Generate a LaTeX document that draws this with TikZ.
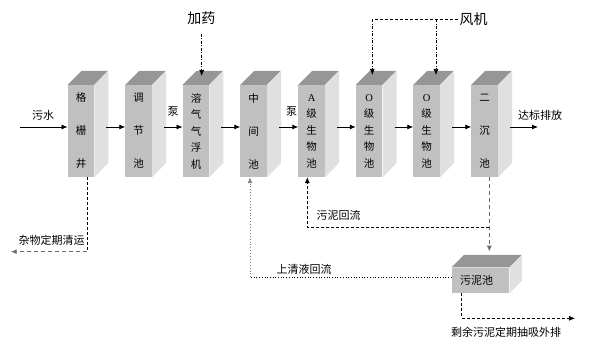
\documentclass[tikz,border=0pt]{standalone}
\usepackage{fontspec}
\newfontfamily\cjk{Noto Sans CJK SC}
\newfontfamily\latin{Liberation Serif}
\usetikzlibrary{arrows.meta}
\definecolor{frontgray}{RGB}{192,192,192}
\definecolor{topgray}{RGB}{150,150,150}
\definecolor{sidegray}{RGB}{224,224,224}

\begin{document}
\begin{tikzpicture}[x=1pt, y=1pt, every node/.style={font=\cjk\fontsize{11}{13}\selectfont, inner sep=0pt}, >={Latex[length=6pt,width=5pt]}]
  \tikzset{tank/.style={fill=frontgray, minimum width=26.5pt, minimum height=92pt, align=center},
    sludgetank/.style={fill=frontgray, minimum width=57.6pt, minimum height=25.6pt, text width=41pt, align=left},
    topface/.style={fill=topgray}, sideface/.style={fill=sidegray},
    flow/.style={->, line width=.8pt},
    feed/.style={->, line width=.6pt, dash pattern=on 3pt off 1.5pt on 1pt off 1.5pt},
    blackdash/.style={line width=.7pt, dash pattern=on 3pt off 2pt},
    graydash/.style={draw=gray!85!black, line width=1.2pt, dash pattern=on 4pt off 3pt},
    big/.style={font=\cjk\fontsize{14}{16}\selectfont}}
  \useasboundingbox (0,0) rectangle (589,344);

  % tanks
  \foreach \n/\x/\t/\s in {b1/81/{格\\栅\\井}/33, b2/138.7/{调\\节\\池}/33, b3/196/{溶\\气\\气\\浮\\机}/16.5,
      b4/253.7/{中\\间\\池}/33, b5/311.7/{{\latin A}\\级\\生\\物\\池}/16.5, b6/369.2/{{\latin O}\\级\\生\\物\\池}/16.5,
      b7/426.7/{{\latin O}\\级\\生\\物\\池}/16.5, b8/484.7/{二\\沉\\池}/33} {
    \node[tank, font=\cjk\fontsize{10.5}{\s}\selectfont] (\n) at (\x,213) {\t};
    \fill[topface] (\n.north west) -- ++(14,14) -- ++(26.5,0) -- (\n.north east) -- cycle;
    \fill[sideface] (\n.north east) -- ++(14,14) -- ++(0,-92) -- (\n.south east) -- cycle;
  }

  % main line
  \coordinate (in) at (20,217);
  \coordinate (out) at (538,217);
  \draw[flow] (in) -- ([yshift=4]b1.west);
  \foreach \a/\b in {b1/b2,b2/b3,b3/b4,b4/b5,b5/b6,b6/b7,b7/b8}
    \draw[flow] ([shift={(12,4)}]\a.east) -- ([yshift=4]\b.west);
  \draw[flow] ([shift={(12,4)}]b8.east) -- (out);
  \node (sewage) at (43,229) {污水};
  \node (pump1) at (173,232) {泵};
  \node (pump2) at (291.7,232) {泵};
  \node (discharge) at (540,229) {达标排放};

  % dosing and air
  \node[big] (dosing) at (201.3,325.7) {加药};
  \coordinate (dosetip) at (201.7,268);
  \draw[feed] ([xshift=.4,yshift=-9]dosing.south) -- (dosetip);
  \node[big] (fan) at (473.7,324.7) {风机};
  \coordinate (air1) at (372.3,324.7);
  \coordinate (air2) at (436,324.7);
  \draw[blackdash] ([xshift=-2]fan.west) -- (air1);
  \draw[feed] (air1) -- (air1 |- 0,269);
  \draw[feed] (air2) -- (air2 |- 0,269);

  % sludge tank
  \node[sludgetank] (sludge) at (480.5,63.5) {污泥池};
  \fill[topface] (sludge.north west) -- ++(12.5,12.5) -- ++(57.6,0) -- (sludge.north east) -- cycle;
  \fill[sideface] (sludge.north east) -- ++(12.5,12.5) -- ++(0,-25.6) -- (sludge.south east) -- cycle;

  % screenings
  \coordinate (screencorner) at (87.3,92.3);
  \coordinate (screenout) at (10.7,92.3);
  \draw[blackdash] ([xshift=6.3]b1.south) -- (screencorner);
  \draw[graydash, ->] (screencorner) -- (screenout);
  \node (screenings) at (51.7,103.3) {杂物定期清运};

  % sludge lines
  \coordinate (tosludge) at (489.3,92.3);
  \coordinate (returnsplit) at (489.3,116.5);
  \draw[graydash, ->] ([xshift=4.6]b8.south) -- (tosludge);
  \draw[blackdash, ->] (returnsplit) -| ([xshift=-4.4]b5.south);
  \node (sludgereturn) at (338.7,129) {污泥回流};

  \coordinate (clearcorner) at (250,66.7);
  \draw[dotted, line width=.7pt] ([yshift=3.2]sludge.west) -- (clearcorner);
  \draw[dotted, draw=gray, line width=.9pt, ->] (clearcorner) -- ([xshift=-3.7]b4.south);
  \node (clearreturn) at (304,74.7) {上清液回流};

  \coordinate (excess) at (575,25.7);
  \draw[blackdash, ->] ([xshift=-18.8]sludge.south) |- (excess);
  \node (excesslabel) at (506,11.3) {剩余污泥定期抽吸外排};
\end{tikzpicture}
\end{document}
